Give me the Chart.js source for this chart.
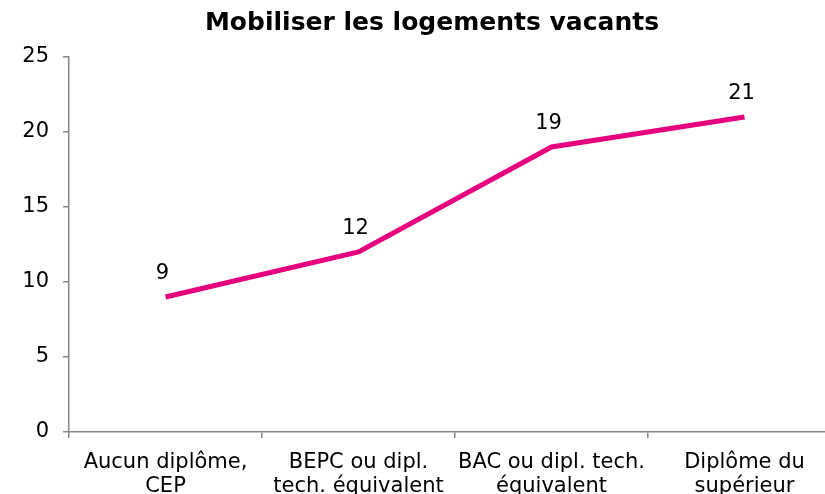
<!DOCTYPE html>
<html>
<head>
<meta charset="utf-8">
<script src="https://cdn.jsdelivr.net/npm/chart.js@4"></script>
<style>
    body { margin: 0; overflow: hidden; background: #fff; }
    #wrap { width: 864px; height: 520px; }
</style>
</head>
<body>
<div id="wrap"><canvas id="chart"></canvas></div>
<script>
const categories = [
    ["Aucun diplôme,", "CEP"],
    ["BEPC ou dipl.", "tech. équivalent"],
    ["BAC ou dipl. tech.", "équivalent"],
    ["Diplôme du", "supérieur"]
];
const values = [9, 12, 19, 21];
const titleText = "Mobiliser les logements vacants";

const FONT = "'DejaVu Sans', Verdana, sans-serif";
const AXIS = '#868686';

// Draw the value above each point, and the title centred on the page
const valueLabels = {
    id: 'valueLabels',
    afterDatasetsDraw(chart) {
        const ctx = chart.ctx;
        const meta = chart.getDatasetMeta(0);
        ctx.save();
        ctx.font = '21px ' + FONT;
        ctx.fillStyle = '#000';
        ctx.textAlign = 'center';
        ctx.textBaseline = 'middle';
        meta.data.forEach((pt, i) => {
            ctx.fillText(String(values[i]), pt.x - 3, pt.y - 23);
        });
        ctx.font = 'bold 25px ' + FONT;
        ctx.fillText(titleText, chart.width / 2, 23);
        ctx.restore();
    }
};

new Chart(document.getElementById('chart').getContext('2d'), {
    type: 'line',
    data: {
        labels: categories,
        datasets: [{
            data: values,
            borderColor: '#E6007E',
            borderWidth: 5,
            tension: 0,
            pointRadius: 0,
            fill: false
        }]
    },
    options: {
        responsive: true,
        maintainAspectRatio: false,
        animation: false,
        layout: { padding: { left: 0, right: 23, top: 57, bottom: 0 } },
        plugins: {
            legend: { display: false },
            tooltip: { enabled: false },
            title: { display: false }
        },
        scales: {
            x: {
                offset: true,
                grid: { offset: true, drawOnChartArea: false, drawTicks: true, tickLength: 6, color: AXIS, lineWidth: 1.5 },
                border: { color: AXIS, width: 1.5 },
                ticks: { color: '#000', font: { family: FONT, size: 21, lineHeight: 1.15 }, maxRotation: 0, autoSkip: false, padding: 12 },
                afterFit(scale) { scale.height = 88; }
            },
            y: {
                min: 0,
                max: 25,
                ticks: { stepSize: 5, color: '#000', font: { family: FONT, size: 21 }, padding: 14 },
                grid: { drawOnChartArea: false, drawTicks: true, tickLength: 6, color: AXIS, lineWidth: 1.5 },
                border: { color: AXIS, width: 1.5 },
                afterFit(scale) { scale.width = 69; }
            }
        }
    },
    plugins: [valueLabels]
});
</script>
</body>
</html>
